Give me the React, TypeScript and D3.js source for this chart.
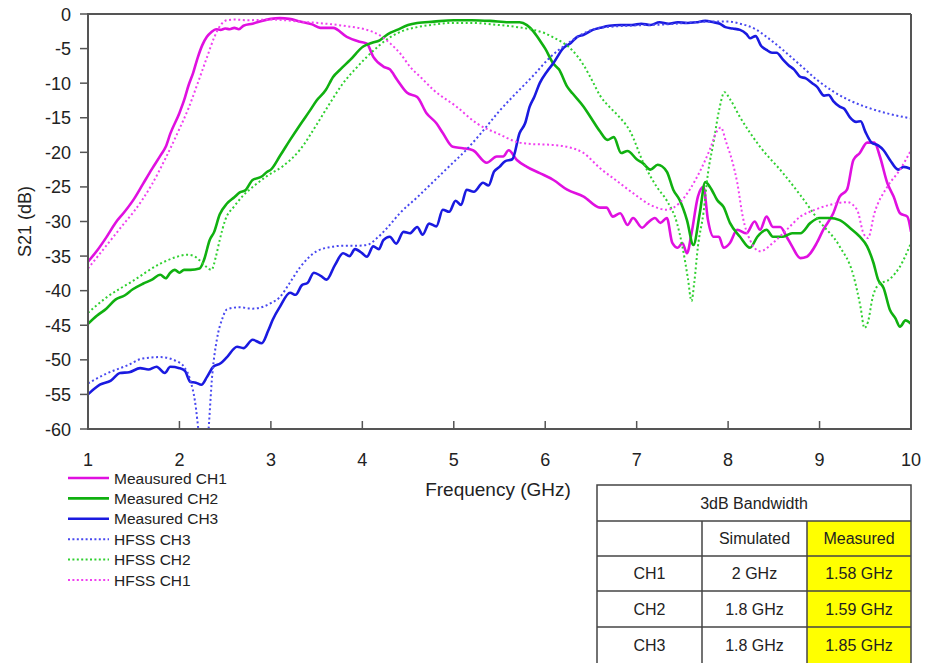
import React from "react";
import * as d3 from "d3";

// ---------- DATA ----------
const xTicks = [1, 2, 3, 4, 5, 6, 7, 8, 9, 10];
const yTicks = [0, -5, -10, -15, -20, -25, -30, -35, -40, -45, -50, -55, -60];

const measuredCH1: [number, number][] = [
  [1.0, -35.8], [1.1, -34.2], [1.2, -32.3], [1.3, -30.2], [1.4, -28.6], [1.5, -26.8], [1.6, -24.6],
  [1.7, -22.4], [1.8, -20.3], [1.85, -19.2], [1.9, -17.3], [2.0, -14.3], [2.05, -12.5], [2.1, -10.3],
  [2.15, -8.5], [2.2, -6.3], [2.25, -4.5], [2.3, -3.3], [2.35, -2.6], [2.4, -2.2], [2.45, -2.3],
  [2.5, -2.1], [2.55, -2.2], [2.6, -2.0], [2.65, -2.2], [2.7, -1.7], [2.8, -1.4], [2.9, -1.0],
  [3.0, -0.7], [3.1, -0.6], [3.2, -0.7], [3.32, -1.1], [3.45, -1.5], [3.54, -2.0], [3.68, -2.0],
  [3.83, -3.3], [3.97, -4.0], [4.05, -4.3], [4.12, -6.2], [4.23, -7.6], [4.3, -8.0], [4.38, -9.5],
  [4.49, -11.4], [4.6, -12.0], [4.7, -14.3], [4.81, -15.8], [4.88, -17.2], [4.99, -19.2], [5.1, -19.4],
  [5.21, -19.7], [5.36, -21.5], [5.47, -20.6], [5.54, -20.6], [5.6, -19.7], [5.69, -21.1], [5.8, -22.1],
  [5.94, -23.0], [6.09, -24.0], [6.24, -25.4], [6.42, -26.4], [6.6, -28.0], [6.67, -28.0], [6.74, -29.3],
  [6.82, -28.8], [6.9, -30.5], [6.96, -29.5], [7.06, -30.9], [7.12, -30.2], [7.2, -29.5], [7.26, -30.2],
  [7.33, -29.5], [7.39, -33.1], [7.45, -33.8], [7.5, -33.1], [7.55, -34.6], [7.6, -31.7], [7.67, -26.4],
  [7.73, -25.0], [7.78, -29.8], [7.84, -32.2], [7.9, -32.2], [7.95, -33.8], [8.02, -33.1], [8.1, -31.2],
  [8.2, -31.7], [8.29, -30.0], [8.35, -31.2], [8.42, -29.3], [8.49, -30.8], [8.57, -30.8], [8.64, -32.2],
  [8.7, -33.6], [8.79, -35.3], [8.86, -35.1], [8.97, -33.1], [9.04, -31.2], [9.15, -28.8], [9.22, -26.4],
  [9.3, -25.4], [9.37, -21.1], [9.44, -20.1], [9.52, -18.6], [9.6, -18.6], [9.66, -20.6], [9.74, -24.4],
  [9.81, -26.4], [9.88, -28.8], [9.96, -29.3], [10.0, -31.5],
];

const measuredCH2: [number, number][] = [
  [1.0, -44.8], [1.1, -43.6], [1.2, -42.6], [1.3, -41.3], [1.4, -40.7], [1.49, -39.8], [1.6, -39.0],
  [1.7, -38.4], [1.79, -37.7], [1.85, -38.2], [1.9, -37.4], [1.95, -37.0], [2.0, -37.4], [2.05, -37.0],
  [2.12, -37.0], [2.22, -36.8], [2.27, -35.5], [2.33, -32.7], [2.38, -31.5], [2.44, -29.0], [2.52, -27.4],
  [2.6, -26.5], [2.66, -25.8], [2.72, -25.5], [2.8, -24.0], [2.9, -23.5], [2.96, -22.8], [3.0, -22.5],
  [3.1, -20.5], [3.21, -18.2], [3.32, -16.0], [3.43, -13.9], [3.5, -12.5], [3.6, -11.0], [3.68, -9.1],
  [3.76, -8.0], [3.87, -6.6], [4.01, -4.7], [4.1, -4.2], [4.19, -3.8], [4.28, -2.9], [4.38, -2.3],
  [4.5, -1.6], [4.6, -1.3], [4.78, -1.1], [5.0, -0.9], [5.2, -0.9], [5.4, -1.0], [5.6, -1.2],
  [5.72, -1.2], [5.8, -1.6], [5.87, -2.5], [5.94, -3.8], [6.0, -5.0], [6.09, -7.2], [6.15, -8.0],
  [6.24, -10.5], [6.3, -11.5], [6.42, -13.4], [6.5, -15.0], [6.6, -17.0], [6.68, -18.2], [6.75, -17.8],
  [6.83, -20.1], [6.9, -19.8], [7.0, -21.0], [7.07, -21.6], [7.15, -22.5], [7.23, -21.8], [7.33, -22.8],
  [7.4, -25.4], [7.47, -26.9], [7.55, -29.8], [7.62, -33.4], [7.69, -28.8], [7.75, -24.3], [7.82, -25.4],
  [7.88, -26.9], [7.95, -27.9], [8.02, -30.2], [8.13, -32.2], [8.24, -33.8], [8.32, -32.2], [8.42, -31.2],
  [8.49, -32.2], [8.6, -32.2], [8.7, -31.7], [8.79, -31.7], [8.9, -30.2], [9.0, -29.5], [9.11, -29.5],
  [9.22, -29.8], [9.33, -30.9], [9.44, -32.2], [9.52, -33.6], [9.59, -36.0], [9.64, -38.4], [9.7, -39.6],
  [9.77, -42.8], [9.83, -44.0], [9.88, -45.2], [9.94, -44.3], [10.0, -44.8],
];

const measuredCH3: [number, number][] = [
  [1.0, -55.0], [1.13, -53.6], [1.25, -53.0], [1.35, -51.9], [1.45, -51.8], [1.57, -51.2], [1.66, -51.4],
  [1.75, -51.0], [1.84, -51.9], [1.9, -51.0], [2.0, -51.2], [2.06, -51.6], [2.12, -53.2], [2.18, -53.3],
  [2.24, -53.6], [2.3, -52.5], [2.37, -51.0], [2.45, -50.5], [2.52, -49.6], [2.63, -48.1], [2.7, -48.3],
  [2.8, -47.1], [2.9, -47.6], [2.97, -45.8], [3.02, -44.2], [3.1, -42.3], [3.21, -40.3], [3.27, -40.6],
  [3.34, -39.2], [3.4, -38.9], [3.47, -37.4], [3.55, -37.9], [3.61, -38.4], [3.7, -36.3], [3.79, -34.6],
  [3.86, -35.0], [3.92, -34.0], [4.0, -34.6], [4.05, -35.1], [4.12, -33.6], [4.18, -34.0], [4.23, -32.7],
  [4.3, -32.2], [4.37, -33.2], [4.45, -31.5], [4.52, -31.7], [4.6, -30.8], [4.66, -31.9], [4.73, -30.3],
  [4.81, -30.7], [4.88, -28.3], [4.95, -28.6], [5.02, -27.0], [5.08, -27.6], [5.14, -25.4], [5.22, -25.7],
  [5.32, -24.4], [5.38, -24.8], [5.44, -22.8], [5.5, -22.1], [5.56, -21.3], [5.64, -21.0], [5.72, -17.2],
  [5.78, -15.8], [5.83, -13.4], [5.88, -12.0], [5.94, -10.0], [6.02, -8.3], [6.09, -7.1], [6.2, -4.9],
  [6.28, -4.2], [6.35, -3.3], [6.42, -3.0], [6.52, -2.3], [6.6, -2.0], [6.7, -1.7], [6.82, -1.6],
  [6.95, -1.6], [7.05, -1.4], [7.15, -1.6], [7.25, -1.2], [7.35, -1.4], [7.45, -1.2], [7.55, -1.3],
  [7.65, -1.2], [7.75, -1.0], [7.84, -1.2], [7.91, -1.4], [7.97, -1.9], [8.05, -2.1], [8.13, -2.3],
  [8.2, -2.9], [8.24, -3.5], [8.3, -3.2], [8.36, -4.6], [8.42, -5.2], [8.48, -5.6], [8.53, -5.6],
  [8.6, -6.6], [8.66, -7.4], [8.72, -8.0], [8.79, -9.1], [8.85, -9.3], [8.92, -10.0], [8.97, -10.5],
  [9.05, -11.8], [9.1, -11.7], [9.15, -12.6], [9.22, -13.4], [9.27, -13.7], [9.33, -14.9], [9.4, -15.6],
  [9.45, -15.5], [9.5, -17.0], [9.57, -18.6], [9.64, -19.0], [9.7, -19.7], [9.77, -21.1], [9.86, -22.5],
  [9.92, -22.1], [10.0, -22.4],
];

const hfssCH3: [number, number][] = [
  [1.0, -53.4], [1.2, -52.0], [1.43, -50.8], [1.6, -49.8], [1.79, -49.6], [1.97, -50.2], [2.05, -51.0],
  [2.12, -53.0], [2.17, -56.0], [2.22, -61.5], [2.27, -66], [2.31, -61.5], [2.36, -52.0], [2.41, -47.0],
  [2.47, -44.0], [2.52, -42.7], [2.65, -42.4], [2.8, -42.6], [2.92, -42.3], [3.0, -41.8], [3.1, -40.9],
  [3.2, -39.0], [3.32, -36.6], [3.5, -34.3], [3.65, -33.7], [3.79, -33.5], [3.95, -33.5], [4.05, -33.4],
  [4.16, -32.4], [4.28, -30.8], [4.41, -28.8], [4.6, -26.5], [4.78, -24.2], [4.96, -21.9], [5.14, -19.6],
  [5.3, -17.2], [5.5, -14.0], [5.7, -11.2], [5.87, -8.9], [6.05, -6.3], [6.24, -4.3], [6.42, -2.8],
  [6.6, -2.0], [6.9, -1.7], [7.33, -1.5], [7.8, -1.1], [8.0, -1.1], [8.13, -1.4], [8.3, -2.2],
  [8.42, -3.3], [8.6, -5.2], [8.79, -7.4], [8.97, -9.5], [9.15, -11.2], [9.33, -12.5], [9.52, -13.5],
  [9.75, -14.4], [10.0, -15.1],
];

const hfssCH2: [number, number][] = [
  [1.0, -43.2], [1.2, -41.0], [1.49, -38.6], [1.79, -36.1], [1.95, -35.2], [2.08, -34.8], [2.16, -35.0],
  [2.22, -35.6], [2.29, -36.5], [2.35, -37.0], [2.4, -35.0], [2.44, -32.7], [2.5, -29.8], [2.6, -27.8],
  [2.7, -26.2], [2.83, -24.7], [2.96, -23.4], [3.13, -22.0], [3.32, -19.6], [3.5, -16.0], [3.65, -12.8],
  [3.79, -10.0], [3.92, -8.0], [4.05, -6.2], [4.18, -4.6], [4.3, -3.4], [4.45, -2.4], [4.6, -1.9],
  [4.8, -1.5], [4.96, -1.3], [5.2, -1.3], [5.5, -1.6], [5.7, -1.9], [5.87, -2.3], [6.0, -2.8],
  [6.09, -3.4], [6.2, -4.2], [6.3, -5.3], [6.42, -7.4], [6.52, -9.8], [6.6, -11.8], [6.7, -13.4],
  [6.79, -14.6], [6.93, -17.0], [7.07, -21.4], [7.22, -25.0], [7.33, -27.0], [7.44, -30.2], [7.5, -33.6],
  [7.56, -38.2], [7.6, -41.5], [7.63, -38.8], [7.67, -33.6], [7.73, -28.8], [7.78, -23.0], [7.84, -18.6],
  [7.9, -14.0], [7.96, -11.3], [8.02, -12.3], [8.13, -14.9], [8.35, -19.2], [8.6, -23.0], [8.79, -26.2],
  [9.0, -30.0], [9.22, -33.6], [9.37, -37.8], [9.45, -42.5], [9.49, -45.4], [9.53, -44.5], [9.58, -41.0],
  [9.64, -39.2], [9.77, -38.3], [9.88, -36.5], [10.0, -33.1],
];

const hfssCH1: [number, number][] = [
  [1.0, -36.8], [1.2, -33.5], [1.4, -30.2], [1.5, -28.6], [1.7, -24.6], [1.85, -20.8], [2.0, -16.6],
  [2.1, -13.6], [2.2, -10.0], [2.3, -6.3], [2.38, -3.4], [2.45, -1.6], [2.52, -0.9], [2.6, -0.8],
  [2.75, -0.9], [3.0, -0.8], [3.32, -1.1], [3.6, -1.4], [3.85, -1.8], [4.05, -2.3], [4.18, -3.0],
  [4.3, -4.2], [4.42, -5.8], [4.52, -7.6], [4.65, -9.3], [4.78, -11.0], [5.03, -13.4], [5.25, -15.8],
  [5.5, -17.4], [5.69, -18.5], [5.85, -18.8], [6.05, -18.9], [6.24, -19.2], [6.42, -20.1], [6.6, -22.3],
  [6.79, -24.2], [6.96, -25.9], [7.15, -27.6], [7.33, -28.3], [7.47, -27.3], [7.58, -25.4], [7.69, -22.8],
  [7.8, -19.6], [7.88, -16.9], [7.92, -16.4], [7.98, -18.6], [8.05, -21.5], [8.1, -24.4], [8.16, -29.3],
  [8.24, -32.7], [8.35, -34.3], [8.49, -33.1], [8.64, -31.2], [8.79, -29.3], [8.95, -28.3], [9.11, -27.6],
  [9.3, -27.2], [9.41, -28.3], [9.48, -31.7], [9.53, -32.4], [9.6, -28.8], [9.74, -25.0], [9.88, -22.5],
  [10.0, -19.7],
];

const legendLabels = ["Meausured CH1", "Measured CH2", "Measured CH3", "HFSS CH3", "HFSS CH2", "HFSS CH1"];
const tableHeader = "3dB Bandwidth";
const tableColumns = ["", "Simulated", "Measured"];
const tableChannels = ["CH1", "CH2", "CH3"];
const tableSimulated = ["2 GHz", "1.8 GHz", "1.8 GHz"];
const tableMeasured = ["1.58 GHz", "1.59 GHz", "1.85 GHz"];

// ---------- STYLE ----------
const MAG = "#E010E0";
const GRN = "#10B010";
const BLU = "#1A1AE0";
const MAG_D = "#F040F0";
const GRN_D = "#30D030";
const BLU_D = "#4848F0";
const FONT = "'Liberation Sans Narrow', 'Arial Narrow', 'Liberation Sans', Arial, sans-serif";

const series = [
  { data: measuredCH1, color: MAG, dotted: false },
  { data: measuredCH2, color: GRN, dotted: false },
  { data: measuredCH3, color: BLU, dotted: false },
  { data: hfssCH3, color: BLU_D, dotted: true },
  { data: hfssCH2, color: GRN_D, dotted: true },
  { data: hfssCH1, color: MAG_D, dotted: true },
];

export default function App() {
  const W = 927, H = 663;
  const left = 88, right = 911, top = 14, bottom = 429;
  const x = d3.scaleLinear().domain([1, 10]).range([left, right]);
  const y = d3.scaleLinear().domain([-60, 0]).range([bottom, top]);
  const line = d3
    .line<[number, number]>()
    .x((d) => x(d[0]))
    .y((d) => y(d[1]))
    .curve(d3.curveMonotoneX);

  const axisColor = "#555";

  // table geometry
  const tx = [597, 702, 807, 911];
  const ty = [485, 521, 556, 591, 627, 663];

  return (
    <svg
      width={W}
      height={H}
      style={{ position: "absolute", left: 0, top: 0, background: "#fff" }}
      fontFamily={FONT}
    >
      <defs>
        <clipPath id="plotClip">
          <rect x={left} y={top} width={right - left} height={bottom - top} />
        </clipPath>
      </defs>
      <rect x={0} y={0} width={W} height={H} fill="#fff" />

      {/* curves */}
      <g clipPath="url(#plotClip)">
        {series.map((s, i) => (
          <path
            key={i}
            d={line(s.data) || ""}
            fill="none"
            stroke={s.color}
            strokeWidth={s.dotted ? 2 : 2.6}
            strokeDasharray={s.dotted ? "2 2.6" : undefined}
            strokeLinejoin="round"
          />
        ))}
      </g>

      {/* frame */}
      <line x1={left} x2={right} y1={top} y2={top} stroke={axisColor} strokeWidth={2} />
      <line x1={right} x2={right} y1={top} y2={bottom} stroke={axisColor} strokeWidth={2} />
      <line x1={left} x2={left} y1={top - 1} y2={bottom + 1} stroke={axisColor} strokeWidth={2} />
      <line x1={left - 1} x2={right + 1} y1={bottom} y2={bottom} stroke={axisColor} strokeWidth={2} />

      {/* y ticks */}
      {yTicks.map((t) => (
        <g key={t}>
          <line x1={left - 8} x2={left} y1={y(t)} y2={y(t)} stroke={axisColor} strokeWidth={1.5} />
          <text x={left - 17} y={y(t) + 6.5} textAnchor="end" fontSize={18} fill="#222">
            {t}
          </text>
        </g>
      ))}
      {/* x ticks */}
      {xTicks.map((t) => (
        <g key={t}>
          {t > 1 && t < 10 && (
            <line x1={x(t)} x2={x(t)} y1={bottom - 8} y2={bottom} stroke={axisColor} strokeWidth={1.5} />
          )}
          <text x={x(t)} y={bottom + 37} textAnchor="middle" fontSize={18} fill="#222">
            {t}
          </text>
        </g>
      ))}

      <text
        transform={`translate(31, ${(top + bottom) / 2}) rotate(-90)`}
        textAnchor="middle"
        fontSize={18}
        fill="#222"
      >
        S21 (dB)
      </text>
      <text x={498} y={496} textAnchor="middle" fontSize={19} fill="#222">
        Frequency (GHz)
      </text>

      {/* legend */}
      {legendLabels.map((lab, i) => {
        const s = series[i];
        const ly = 478 + i * 20.4;
        return (
          <g key={lab}>
            <line
              x1={68}
              x2={109}
              y1={ly}
              y2={ly}
              stroke={s.color}
              strokeWidth={s.dotted ? 2 : 2.6}
              strokeDasharray={s.dotted ? "2 2.4" : undefined}
            />
            <text x={114} y={ly + 5.5} fontSize={15.5} fill="#222">
              {lab}
            </text>
          </g>
        );
      })}

      {/* table */}
      <g fontFamily="'Liberation Sans', Arial, sans-serif" fontSize={16} fill="#222">
        <rect x={tx[2]} y={ty[1]} width={tx[3] - tx[2]} height={H - ty[1]} fill="#FFFF00" />
        <rect x={tx[0]} y={ty[0]} width={tx[3] - tx[0]} height={H - ty[0] + 2} fill="none" stroke="#444" strokeWidth={1.5} />
        {ty.slice(1, 5).map((yy, i) => (
          <line key={i} x1={tx[0]} x2={tx[3]} y1={yy} y2={yy} stroke="#444" strokeWidth={1.5} />
        ))}
        <line x1={tx[1]} x2={tx[1]} y1={ty[1]} y2={H} stroke="#444" strokeWidth={1.5} />
        <line x1={tx[2]} x2={tx[2]} y1={ty[1]} y2={H} stroke="#444" strokeWidth={1.5} />
        <text x={(tx[0] + tx[3]) / 2} y={(ty[0] + ty[1]) / 2 + 5.5} textAnchor="middle">
          {tableHeader}
        </text>
        {tableColumns.map((c, j) => (
          <text key={j} x={(tx[j] + tx[j + 1]) / 2} y={(ty[1] + ty[2]) / 2 + 5.5} textAnchor="middle">
            {c}
          </text>
        ))}
        {tableChannels.map((ch, i) => {
          const cy = (ty[i + 2] + ty[i + 3]) / 2 + 5.5;
          return (
            <g key={ch}>
              <text x={(tx[0] + tx[1]) / 2} y={cy} textAnchor="middle">{ch}</text>
              <text x={(tx[1] + tx[2]) / 2} y={cy} textAnchor="middle">{tableSimulated[i]}</text>
              <text x={(tx[2] + tx[3]) / 2} y={cy} textAnchor="middle">{tableMeasured[i]}</text>
            </g>
          );
        })}
      </g>
    </svg>
  );
}
